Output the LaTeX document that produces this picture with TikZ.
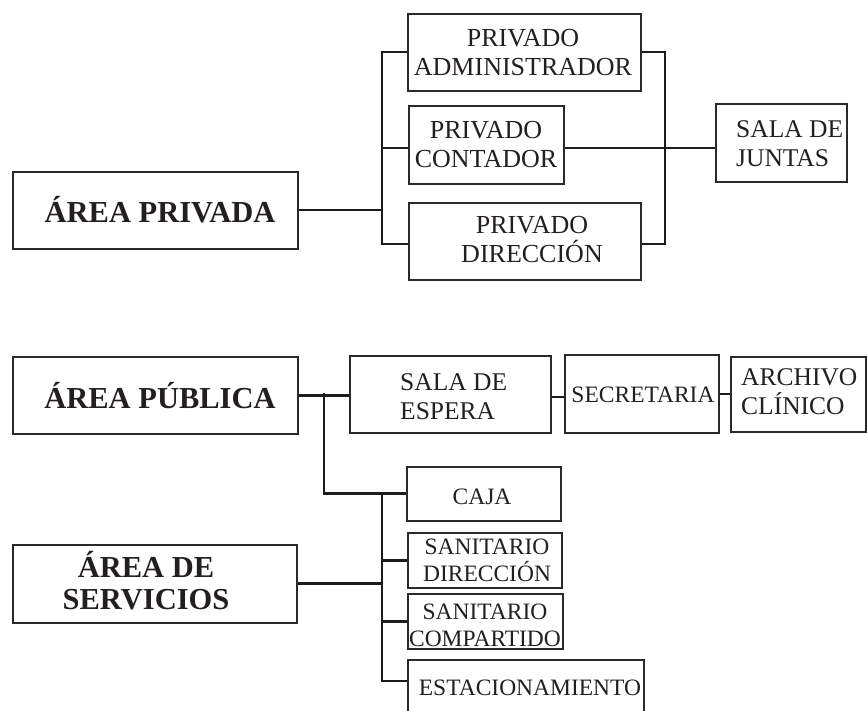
\documentclass[tikz,border=0pt]{standalone}
\usepackage{fontspec}
\setmainfont{Liberation Serif}
\definecolor{boxc}{HTML}{2A2A2A}
\definecolor{linec}{HTML}{1C1C1C}
\definecolor{txtc}{HTML}{231F20}
\tikzset{
  box/.style={draw=boxc, line width=1.6pt, rectangle, inner sep=0pt, anchor=north west},
  conn/.style={draw=linec, line width=2.1pt},
  connb/.style={draw=linec, line width=2.7pt},
  lbl/.style={inner sep=0pt, align=center, text=txtc, anchor=base, font=\fontsize{26}{29.5}\selectfont},
  lbls/.style={inner sep=0pt, align=center, text=txtc, anchor=base, font=\fontsize{23.5}{27}\selectfont},
  lbll/.style={inner sep=0pt, align=left, text=txtc, anchor=base west, font=\fontsize{25.5}{29}\selectfont},
  title/.style={inner sep=0pt, align=center, text=txtc, anchor=base, font=\bfseries\fontsize{30.5}{32}\selectfont},
}
\begin{document}
\begin{tikzpicture}[x=1pt,y=-1pt]
\useasboundingbox (0,0) rectangle (867,711);
% ---------- top section ----------
\node[box, minimum width=285pt, minimum height=77pt] (ap)  at (12,171) {};
\node[box, minimum width=233pt, minimum height=77pt] (adm) at (407,13) {};
\node[box, minimum width=155pt, minimum height=78pt] (con) at (408,105) {};
\node[box, minimum width=232pt, minimum height=77pt] (dir) at (408,202) {};
\node[box, minimum width=131pt, minimum height=78pt] (sj)  at (715,103) {};

\node[title] (tap)  at (160,223) {ÁREA PRIVADA};
\node[lbl]   (tadm) at (523,76)  {PRIVADO\\ADMINISTRADOR};
\node[lbl]   (tcon) at (486,168) {PRIVADO\\CONTADOR};
\node[lbl]   (tdir) at (532,263) {PRIVADO\\DIRECCIÓN};
\node[lbll]  (tsj)  at (736,167) {SALA DE\\JUNTAS};

\coordinate (busL) at (382,52);
\coordinate (busR) at (665,52);
\draw[conn] (adm.west) -- (adm.west -| busL) |- ([yshift=-3pt]dir.west);
\draw[conn] (ap.east) -- (ap.east -| busL);
\draw[conn] ([yshift=-3pt]con.west) -- ([yshift=-3pt]con.west -| busL);
\draw[conn] (adm.east) -- (adm.east -| busR) |- ([yshift=-3pt]dir.east);
\draw[conn] ([yshift=-3pt]con.east) -- ([yshift=-3pt]con.east -| sj.west);

% ---------- bottom section ----------
\node[box, minimum width=285pt, minimum height=77pt] (pub)  at (12,356) {};
\node[box, minimum width=284pt, minimum height=78pt] (ser)  at (12,544) {};
\node[box, minimum width=201pt, minimum height=77pt] (esp)  at (349,355) {};
\node[box, minimum width=154pt, minimum height=78pt] (sec)  at (564,354) {};
\node[box, minimum width=135pt, minimum height=75pt] (arc)  at (730,356) {};
\node[box, minimum width=154pt, minimum height=54pt] (caja) at (406,466) {};
\node[box, minimum width=154pt, minimum height=55pt] (sd)   at (407,532) {};
\node[box, minimum width=155pt, minimum height=55pt] (sc)   at (407,593) {};
\node[box, minimum width=236pt, minimum height=70pt] (est)  at (407,659) {};

\node[title] (tpub) at (160,408) {ÁREA PÚBLICA};
\node[title] (tser) at (146,609) {ÁREA DE\\SERVICIOS};
\node[lbll]  (tesp) at (400,419) {SALA DE\\ESPERA};
\node[lbls]  (tsec) at (643,402) {SECRETARIA};
\node[lbll]  (tarc) at (741,414) {ARCHIVO\\CLÍNICO};
\node[lbls]  (tcaj) at (482,504) {CAJA};
\node[lbls]  (tsd)  at (487,581) {SANITARIO\\DIRECCIÓN};
\node[lbls]  (tsc)  at (485,646) {SANITARIO\\COMPARTIDO};
\node[lbls]  (test) at (530,695) {ESTACIONAMIENTO};

\coordinate (j1)   at (324,393);
\coordinate (busS) at (382,493);
\coordinate (busE) at (382,681);
\draw[connb] (pub.east) -- (pub.east -| esp.west);
\draw[connb] (j1) |- (caja.west);
\draw[connb] (busS) -- (busE) -- (busE -| est.west);
\draw[connb] (sd.west) -- (sd.west -| busS);
\draw[connb] (sc.west) -- (sc.west -| busS);
\draw[connb] (ser.east) -- (ser.east -| busS);
\draw[conn] ([yshift=-3pt]esp.east) -- ([yshift=-3pt]esp.east -| sec.west);
\draw[conn] (sec.east) -- (sec.east -| arc.west);
\end{tikzpicture}
\end{document}
